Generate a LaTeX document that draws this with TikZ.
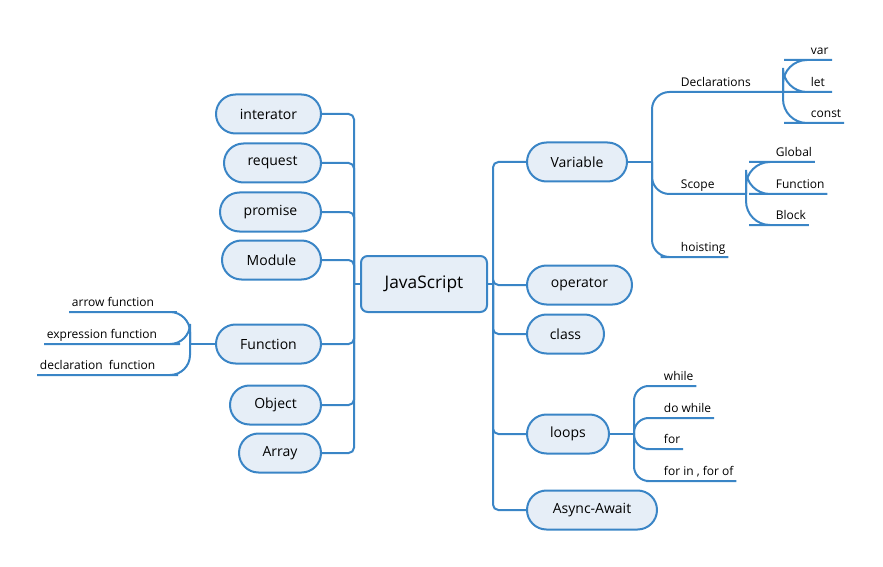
\documentclass[tikz,border=0pt]{standalone}
\usepackage{fontspec}
\setmainfont{Open Sans}
\usepackage{tikz}
\usetikzlibrary{positioning, calc}

\definecolor{mapblue}{HTML}{3A85C6}
\definecolor{mapfill}{HTML}{E6EEF7}

\tikzset{
  topic/.style={draw=mapblue, fill=mapfill, line width=1.5pt, rounded corners=14.6pt,
    minimum height=29.25pt, inner sep=0pt, font=\fontsize{10.5}{12}\selectfont},
  leaf/.style={anchor=south west, inner xsep=2pt, inner ysep=1.2pt, text depth=0.25em,
    font=\fontsize{9}{10}\selectfont},
  link/.style={draw=mapblue, line width=1.5pt, rounded corners=4pt},
}

\begin{document}
\begin{tikzpicture}[x=0.75pt, y=-0.75pt]
        \useasboundingbox (0,0) rectangle (883,567);

        % Central topic
        \node[topic, rounded corners=5pt, minimum width=94.5pt, minimum height=42pt,
          font=\fontsize{13}{15}\selectfont] (js) at (424,284) {JavaScript};
        \coordinate (lj) at (354,284);
        \coordinate (rj) at (493,284);

        % Left topics
        \node[topic, anchor=east, minimum width=78.75pt] (interator) at (322,114) {interator};
        \node[topic, anchor=east, minimum width=72.75pt] (request) at (322,163) {request};
        \node[topic, anchor=east, minimum width=75.75pt] (promise) at (322,212) {promise};
        \node[topic, anchor=east, minimum width=74.25pt] (module) at (322,260) {Module};
        \node[topic, anchor=east, minimum width=78.75pt] (function) at (322,344) {Function};
        \node[topic, anchor=east, minimum width=68.25pt] (object) at (322,405) {Object};
        \node[topic, anchor=east, minimum width=61.5pt] (array) at (322,453) {Array};

        \draw[link] (lj) -- (js.west);
        \foreach \n in {interator,request,promise,module,function,object,array}
          \draw[link] (\n.east) -| (lj);

        % Right topics
        \node[topic, anchor=west, minimum width=75pt] (variable) at (526,162) {Variable};
        \node[topic, anchor=west, minimum width=78.75pt] (operator) at (526,285) {operator};
        \node[topic, anchor=west, minimum width=57.75pt] (class) at (526,334) {class};
        \node[topic, anchor=west, minimum width=61.5pt] (loops) at (526,434) {loops};
        \node[topic, anchor=west, minimum width=97.5pt] (async) at (526,510) {Async-Await};

        \draw[link] (js.east) -- (rj);
        \foreach \n in {variable,operator,class,loops,async}
          \draw[link] (rj) |- (\n.west);

        % Function details
        \coordinate (fj) at (190,344);
        \node[leaf] (arrowfn) at (69,312) {arrow function};
        \node[leaf] (exprfn) at (44,344) {expression function};
        \node[leaf] (declfn) at (37,375) {declaration\ \ function};
        \draw[link] (function.west) -- (fj);
        \foreach \n in {arrowfn,exprfn,declfn}
          \draw[link, rounded corners=15pt] (fj) |- (\n.south east) -- (\n.south west);

        % Variable details
        \coordinate (vj) at (652,162);
        \coordinate (dj) at (783,92);
        \coordinate (sj) at (746,194);
        \node[leaf] (decl) at (678,92) {Declarations};
        \node[leaf] (scope) at (678,194) {Scope};
        \node[leaf] (hoist) at (678,257) {hoisting};
        \draw[link] (variable.east) -- (vj);
        \draw[link, rounded corners=13pt] (vj) |- (dj);
        \draw[link, rounded corners=13pt] (vj) |- (sj);
        \draw[link, rounded corners=13pt] (vj) |- (hoist.south west) -- (hoist.south east);

        \node[leaf] (var) at (808,60) {var};
        \node[leaf] (let) at (808,92) {let};
        \node[leaf] (const) at (808,123) {const};
        \foreach \n in {var,let,const}
          \draw[link, rounded corners=18pt] (dj) |- (\n.south west) -- (\n.south east);

        \node[leaf] (global) at (773,162) {Global};
        \node[leaf] (fnscope) at (773,194) {Function};
        \node[leaf] (block) at (773,225) {Block};
        \foreach \n in {global,fnscope,block}
          \draw[link, rounded corners=18pt] (sj) |- (\n.south west) -- (\n.south east);

        % Loop details
        \coordinate (lpj) at (634,434);
        \node[leaf] (while) at (661,386) {while};
        \node[leaf] (dowhile) at (661,418) {do while};
        \node[leaf] (for) at (661,449) {for};
        \node[leaf] (forin) at (661,481) {for in , for of};
        \draw[link] (loops.east) -- (lpj);
        \foreach \n in {while,dowhile,for,forin}
          \draw[link, rounded corners=11pt] (lpj) |- (\n.south west) -- (\n.south east);

    \end{tikzpicture}
\end{document}
